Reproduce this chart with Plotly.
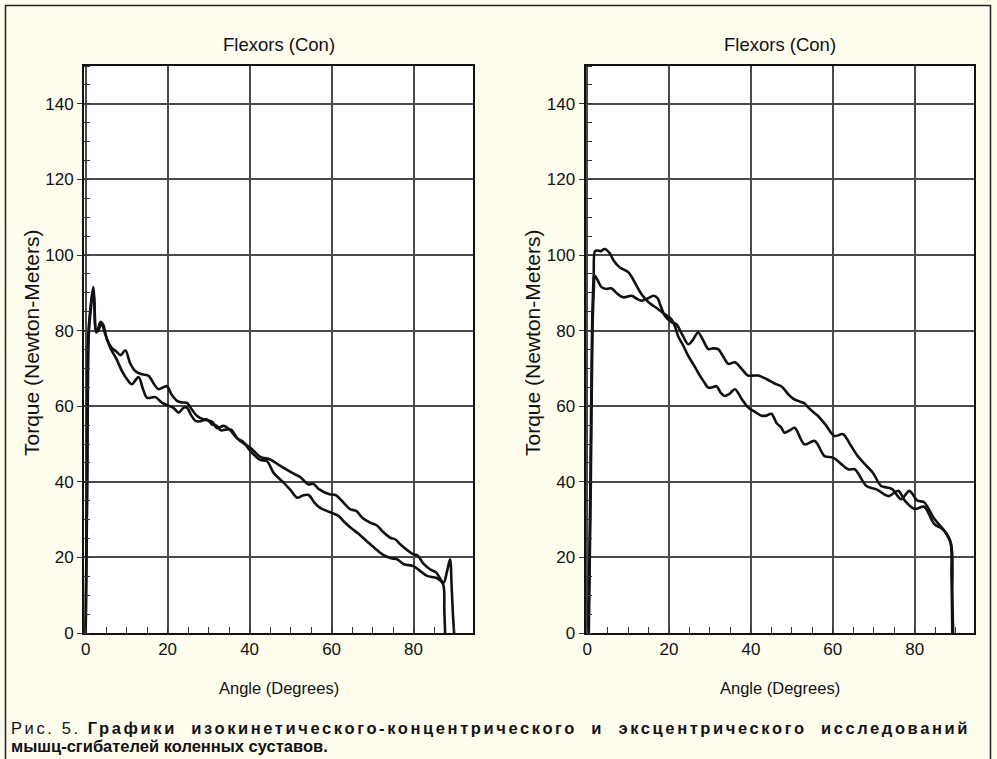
import plotly.graph_objects as go

# ---- data ----
left_a_x = [0, 0.3, 0.6, 1.0, 1.5, 1.9, 2.2, 2.5, 3.0, 3.6, 4.3, 5.2, 6.3, 7.5, 8.5, 9.7, 10.8, 12.1, 13.5, 14.5, 15.4, 16.7, 17.8, 19.8, 21, 22.3, 23.5, 24.7, 26, 27.2, 28.8, 30.4, 31.2, 32, 33.7, 35.3, 36.5, 37.7, 40.2, 42.6, 45, 47.5, 50.3, 52.4, 54.4, 55.5, 57, 59.5, 61, 62.5, 64.6, 66, 67.5, 69.4, 71, 72.5, 74.3, 75.5, 77, 80, 81, 82.3, 84.1, 85.5, 87.3, 88.2, 88.9, 89.3, 89.6, 89.9]
left_a_y = [0, 35, 78, 84, 89, 91.5, 86, 80, 80.5, 82.3, 81.5, 77.7, 75.5, 74.5, 73.5, 74.8, 71.5, 69.3, 68.5, 68.3, 68, 65.8, 64.5, 65.3, 63, 61.4, 61, 60.9, 59, 57.4, 56.5, 56.1, 55.5, 54.2, 54.8, 53.6, 52, 50.8, 49, 46.6, 45.9, 44.2, 42.4, 41.2, 39.3, 39.5, 38, 36.7, 36.5, 35, 32.7, 32.3, 30.5, 29.2, 28.5, 26.8, 25.2, 24.8, 23.2, 20.8, 20.5, 18.5, 16.8, 16, 13.3, 16.5, 19.5, 12, 5, 0]

left_b_x = [0, 0.4, 0.8, 1.3, 1.7, 2.0, 2.3, 2.6, 3.2, 3.9, 4.8, 6, 7.5, 9, 10.2, 11.3, 12.9, 14, 15, 17, 18.5, 19.8, 21.5, 22.7, 23.9, 24.7, 25.8, 26.8, 28, 29.6, 30.8, 32, 33, 34.2, 35.5, 37, 38.5, 40.2, 42.6, 44.2, 45.9, 48.3, 50, 51.6, 53, 54.4, 55.8, 57.2, 59.5, 61.7, 63, 64.6, 66.5, 68.6, 70.5, 72.7, 74.5, 76, 77.6, 80, 81.5, 83.3, 85.7, 87.2, 87.5, 87.7]
left_b_y = [0, 40, 80, 86, 90, 89, 82, 79.5, 80.3, 81.8, 79, 75.5, 72.5, 69, 67, 65.8, 67.7, 64.5, 62.2, 62.4, 61, 60.3, 59.5, 58.3, 59.6, 59.6, 57.5, 56.1, 56, 56.5, 55.2, 54.8, 53.6, 53.8, 53.8, 51.5, 50.5, 48.1, 45.8, 45.5, 42.3, 39.8, 37.8, 35.8, 36.4, 36.5, 34.5, 33.1, 32, 31, 29.5, 27.9, 26.3, 24.3, 22.5, 20.6, 19.8, 19.5, 18.2, 17.7, 16.5, 15.1, 14.5, 12.9, 6, 0]

right_a_x = [0.3, 0.8, 1.2, 1.6, 1.9, 2.5, 3.3, 4.3, 5.5, 6.5, 8, 10.1, 11.5, 13.3, 15, 17.3, 19, 20.6, 21.5, 22.2, 23.5, 24.7, 26, 27.1, 28.5, 29.6, 30.6, 31.6, 32.6, 33.6, 34.8, 36.1, 37.7, 39.3, 41, 42.6, 43.8, 45, 46.3, 47.4, 48.2, 49.5, 50.7, 53.1, 55.6, 58, 60.1, 63.8, 65.4, 68.2, 70.7, 73.6, 76, 77.6, 80, 82.3, 84.8, 86.8, 88.7, 89.0, 89.2]
right_a_y = [0, 40, 80, 95, 101, 101.2, 101, 101.6, 100.5, 98.5, 96.7, 95.4, 93, 89.6, 87.5, 85.7, 84.3, 83, 81, 78.6, 76, 73.3, 71, 68.9, 66.5, 64.9, 65, 65.3, 63.6, 62.7, 63.3, 64.5, 62, 59.7, 58.5, 57.5, 57.5, 58, 55.5, 54.4, 53, 53.6, 54.3, 49.9, 50.8, 46.8, 46.4, 43.3, 43.3, 38.9, 38, 36.2, 37.6, 35, 32.8, 33.4, 28.8, 27.5, 24.3, 15, 0]

right_b_x = [0.4, 0.9, 1.3, 1.6, 1.9, 2.5, 3.5, 4.8, 5.9, 7.3, 8.8, 10.9, 12, 13.3, 14.8, 16.2, 17.2, 17.8, 19, 20.6, 21.8, 23.2, 24.7, 25.8, 27.1, 28.3, 29.6, 30.8, 32, 33.3, 34.5, 36.1, 37.8, 39.3, 40.5, 41.8, 43.8, 45.8, 47.5, 49.1, 50.3, 51.5, 53, 54, 55.3, 56.4, 58.3, 60.4, 62.5, 64.3, 66.1, 68, 69.8, 71.8, 73.2, 74.6, 76.7, 78.7, 80.7, 82.3, 84.8, 87.2, 88.9, 89.2, 89.4]
right_b_y = [0, 40, 80, 90, 94.5, 93.5, 91.5, 91, 91.2, 89.8, 88.8, 89.2, 88.5, 87.9, 88.5, 89.2, 88.6, 87, 83.9, 82.2, 81.7, 79, 76.4, 77.5, 79.5, 77.5, 75.1, 75.3, 75.1, 73, 71.2, 71.6, 69.8, 68.1, 68.1, 68.1, 67.2, 66, 65.2, 63.2, 62, 61.4, 60.8, 59.7, 58.4, 57.4, 55, 52.1, 52.6, 49.8, 46.8, 44.5, 42.4, 38.9, 38.5, 38, 35.4, 37.6, 35, 34.6, 30.2, 27.1, 23.5, 10, 0]

panel_titles = ["Flexors (Con)", "Flexors (Con)"]
x_title = "Angle (Degrees)"
y_title = "Torque (Newton-Meters)"
x_ticks = [0, 20, 40, 60, 80]
y_ticks = [0, 20, 40, 60, 80, 100, 120, 140]
caption_plain = "Рис. 5. "
caption_bold_1 = "Графики изокинетического-концентрического и эксцентрического исследований"
caption_bold_2 = "мышц-сгибателей коленных суставов."

W, H = 997, 759
FONT = "Liberation Sans, Arial, sans-serif"
CREAM = "#FEFDEE"
INK = "#111111"

fig = go.Figure()
line = dict(color=INK, width=2.6, shape="spline", smoothing=0.9)
fig.add_trace(go.Scatter(x=left_a_x, y=left_a_y, mode="lines", line=line, xaxis="x", yaxis="y", showlegend=False, hoverinfo="skip"))
fig.add_trace(go.Scatter(x=left_b_x, y=left_b_y, mode="lines", line=line, xaxis="x", yaxis="y", showlegend=False, hoverinfo="skip"))
fig.add_trace(go.Scatter(x=right_a_x, y=right_a_y, mode="lines", line=line, xaxis="x2", yaxis="y2", showlegend=False, hoverinfo="skip"))
fig.add_trace(go.Scatter(x=right_b_x, y=right_b_y, mode="lines", line=line, xaxis="x2", yaxis="y2", showlegend=False, hoverinfo="skip"))


def px_x(p):
    return p / W


def px_y(p):
    return 1 - p / H


top, bottom = 66, 633
dom_y = [px_y(bottom), px_y(top)]
dom_x1 = [px_x(84), px_x(473)]
dom_x2 = [px_x(585.5), px_x(974)]

xax = dict(range=[-0.4, 94.5], tickvals=x_ticks, showgrid=True, gridcolor="#4a4a4a", gridwidth=1.6,
           showline=True, linecolor=INK, linewidth=2, mirror=True, zeroline=False, automargin=False,
           ticks="", tickfont=dict(family=FONT, size=17, color=INK),
           minor=dict(dtick=5, tick0=0, ticks="inside", ticklen=6, tickcolor="#333", tickwidth=1, showgrid=False),
           fixedrange=True)
yax = dict(range=[0, 150], tickvals=y_ticks, showgrid=True, gridcolor="#4a4a4a", gridwidth=1.6,
           showline=True, linecolor=INK, linewidth=2, mirror=True, zeroline=False, automargin=False,
           ticks="outside", ticklen=5, tickcolor="#333", tickwidth=1,
           tickfont=dict(family=FONT, size=17, color=INK),
           minor=dict(dtick=5, tick0=0, ticks="inside", ticklen=6, tickcolor="#333", tickwidth=1, showgrid=False),
           fixedrange=True)

fig.update_layout(
    width=W, height=H,
    margin=dict(l=0, r=0, t=0, b=0, pad=0, autoexpand=False),
    paper_bgcolor=CREAM, plot_bgcolor="white",
    xaxis=dict(xax, domain=dom_x1, anchor="y"),
    yaxis=dict(yax, domain=dom_y, anchor="x"),
    xaxis2=dict(xax, domain=dom_x2, anchor="y2"),
    yaxis2=dict(yax, domain=dom_y, anchor="x2"),
)

ann = []
for i, d in enumerate([dom_x1, dom_x2]):
    cx = (d[0] + d[1]) / 2
    ann.append(dict(text=panel_titles[i], x=cx, y=px_y(45), xref="paper", yref="paper",
                    xanchor="center", yanchor="middle",
                    showarrow=False, font=dict(family=FONT, size=18.5, color=INK)))
    ann.append(dict(text=x_title, x=cx, y=px_y(688), xref="paper", yref="paper",
                    xanchor="center", yanchor="middle",
                    showarrow=False, font=dict(family=FONT, size=16.5, color=INK)))
for xc in (31, 532):
    ann.append(dict(text=y_title, x=px_x(xc), y=px_y(343), xref="paper", yref="paper", textangle=-90,
                    xanchor="center", yanchor="middle",
                    showarrow=False, font=dict(family=FONT, size=21, color=INK)))
gap = "\u00a0 "
ann.append(dict(text='<span style="letter-spacing:2.6px">' + caption_plain + "<b>" +
                caption_bold_1.replace(" ", gap) + "</b></span>",
                x=px_x(9), y=px_y(728), xref="paper", yref="paper", xanchor="left", yanchor="middle",
                align="left", showarrow=False, font=dict(family=FONT, size=16.5, color=INK)))
ann.append(dict(text="<b>" + caption_bold_2 + "</b>",
                x=px_x(9), y=px_y(746), xref="paper", yref="paper", xanchor="left", yanchor="middle",
                align="left", showarrow=False, font=dict(family=FONT, size=16.5, color=INK)))
fig.update_layout(annotations=ann)

fig.add_shape(type="rect", xref="paper", yref="paper", x0=px_x(5.5), x1=px_x(990.5), y0=-0.05, y1=px_y(5.5),
              line=dict(color="#222", width=1.5), fillcolor="rgba(0,0,0,0)", layer="below")

fig.write_html("out.html", config={"displayModeBar": False},
               post_script="document.body.style.margin='0';document.body.style.overflow='hidden';")
